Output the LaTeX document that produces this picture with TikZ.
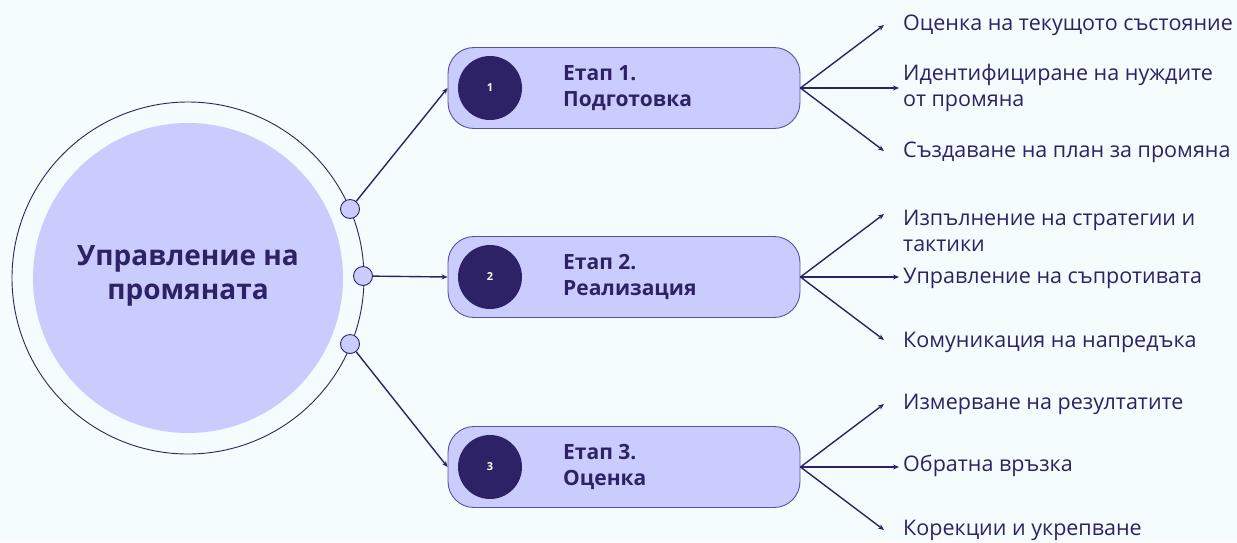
\documentclass[tikz,border=0pt]{standalone}
\usepackage{fontspec}
\setmainfont{Open Sans}
\usetikzlibrary{arrows.meta}
\definecolor{bgc}{HTML}{F4FCFE}
\definecolor{lav}{HTML}{CBCCFE}
\definecolor{ink}{HTML}{2E2266}
\definecolor{edge}{HTML}{5B50A0}

\begin{document}
\begin{tikzpicture}[x=1pt,y=-1pt,
  conn/.style={draw=ink, line width=1.4pt, -{Stealth[length=6pt,width=5pt]}},
  stagebox/.style={draw=edge, line width=0.9pt, fill=lav, rounded corners=26pt,
    minimum width=352pt, minimum height=81pt, inner sep=0pt},
  badge/.style={circle, fill=ink, minimum size=64pt, inner sep=0pt, text=white,
    font=\fontsize{11}{13}\selectfont\bfseries},
  knob/.style={circle, draw=ink, fill=lav, line width=0.9pt, minimum size=19pt, inner sep=0pt},
  stagetxt/.style={anchor=west, text=ink, align=left, inner sep=0pt,
    font=\fontsize{21}{26}\selectfont\bfseries},
  item/.style={anchor=west, text=ink, align=left, inner sep=0pt,
    font=\fontsize{21.5}{26}\selectfont},
]
% canvas
\fill[bgc] (0,0) rectangle (1237,542);
\useasboundingbox (0,0) rectangle (1237,542);

% central hub
\draw[ink, line width=0.9pt] (188,278) circle[radius=176];
\fill[lav] (188,278) circle[radius=155];
\node[text=ink, align=center, font=\fontsize{28}{34}\selectfont\bfseries] (hub) at (188,276)
  {Управление на\\промяната};

% connection knobs on the rim
\node[knob] (k1) at (350,209) {};
\node[knob] (k2) at (363,276) {};
\node[knob] (k3) at (350,344) {};

% stages
\foreach \i/\yc/\name in {1/88/Подготовка, 2/277/Реализация, 3/467/Оценка}{
  \node[stagebox] (b\i) at (624,\yc) {};
  \node[badge] (n\i) at (490,\yc) {\i};
  \node[stagetxt] (t\i) at (563,\yc) {Етап \i.\\\name};
}

\draw[conn] (k1) -- (b1.west);
\draw[conn] (k2) -- (b2.west);
\draw[conn] (k3) -- (b3.west);

% stage 1 items
\node[item] (i11) at (903,25) {Оценка на текущото състояние};
\node[item] (i12) at (903,88) {Идентифициране на нуждите\\от промяна};
\node[item] (i13) at (903,152) {Създаване на план за промяна};
% stage 2 items
\node[item] (i21) at (903,231) {Изпълнение на стратегии и\\тактики};
\node[item] (i22) at (903,278) {Управление на съпротивата};
\node[item] (i23) at (903,342) {Комуникация на напредъка};
% stage 3 items
\node[item] (i31) at (903,404) {Измерване на резултатите};
\node[item] (i32) at (903,466) {Обратна връзка};
\node[item] (i33) at (903,530) {Корекции и укрепване};

% arrow tips of the fan-out
\foreach \i/\yc in {1/88, 2/277, 3/467}{
  \coordinate (u\i) at (884,\yc-63);
  \coordinate (m\i) at (899,\yc);
  \coordinate (d\i) at (884,\yc+63);
  \draw[conn] (b\i.east) -- (u\i);
  \draw[conn] (b\i.east) -- (m\i);
  \draw[conn] (b\i.east) -- (d\i);
}
\end{tikzpicture}
\end{document}
